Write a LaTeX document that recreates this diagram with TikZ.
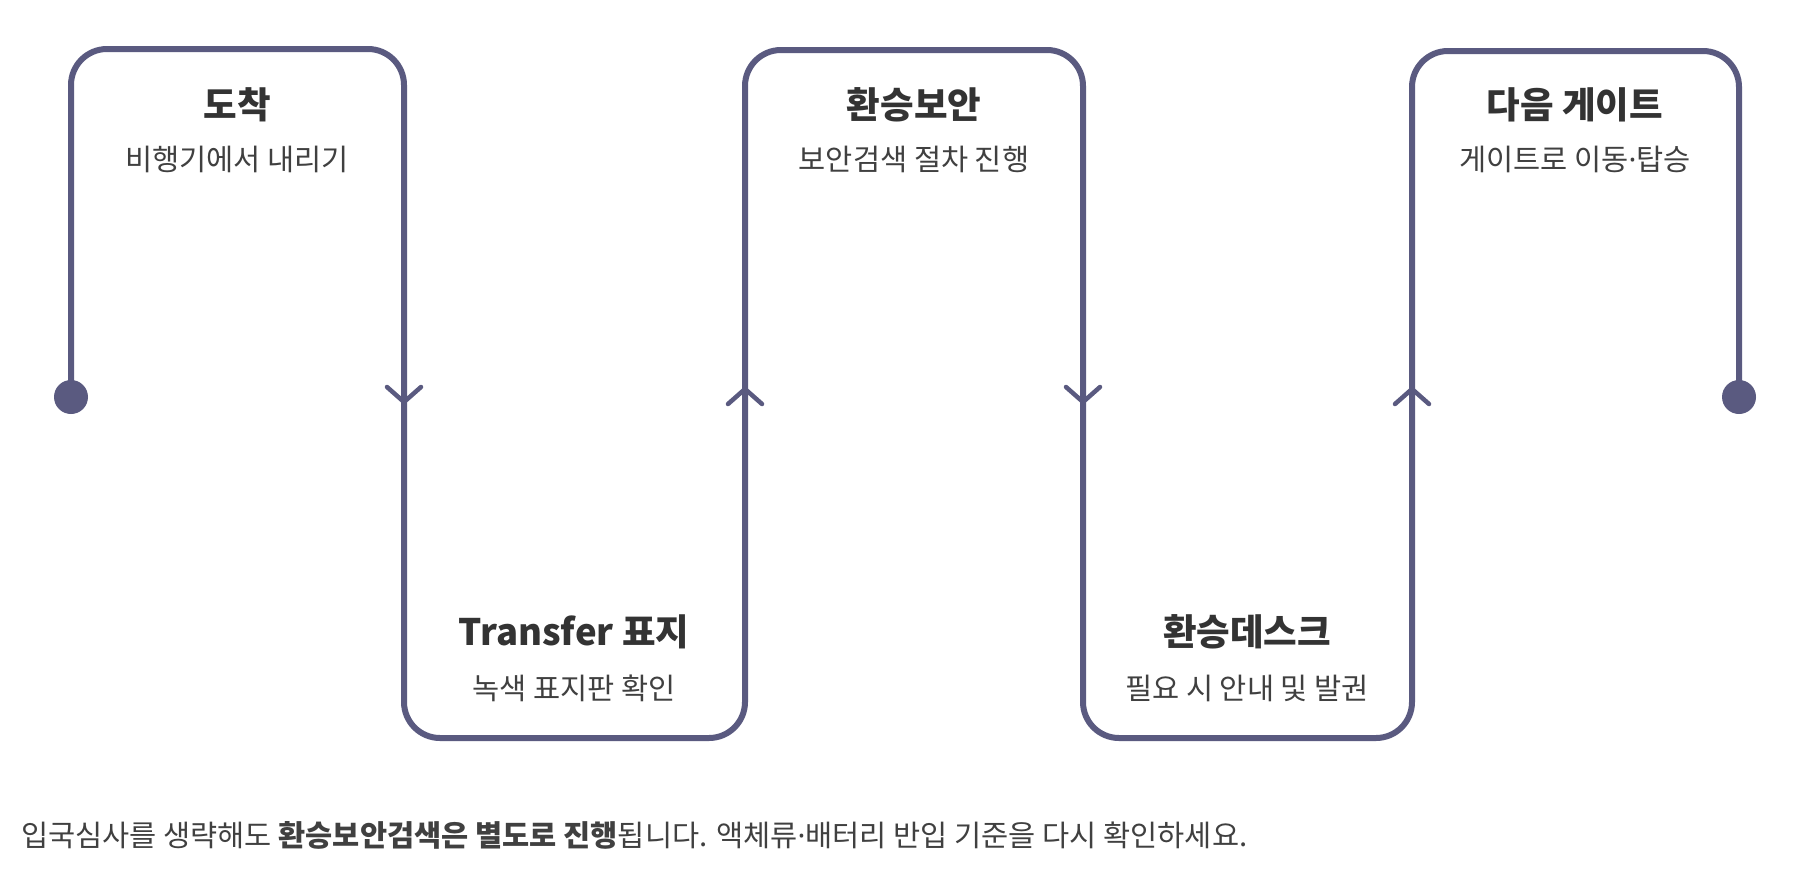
\documentclass[tikz,border=0pt]{standalone}
\usepackage{fontspec}
\setmainfont{Noto Sans CJK KR}
\newfontfamily\latinfont{Noto Sans}
\newcommand{\middot}{{\latinfont ·}}
\definecolor{routeclr}{HTML}{5A5A80}
\definecolor{inkclr}{HTML}{333333}
\definecolor{subclr}{HTML}{404040}
\begin{document}
\begin{tikzpicture}[x=1pt,y=-1pt,
    route/.style={line width=6pt,draw=routeclr,rounded corners=36pt},
    chevron/.style={line width=4.5pt,draw=routeclr,line cap=round,line join=round},
    title/.style={font=\fontsize{36.5}{44}\selectfont\bfseries,text=inkclr},
    sub/.style={font=\fontsize{29.5}{36}\selectfont,text=subclr}]
    \useasboundingbox (0,0) rectangle (1798,870);
    % the route, up and down
    \draw[route] (71,397) -- (71,49) -- (404,49) -- (404,738) -- (745,738)
        -- (745,50) -- (1083,50) -- (1083,738) -- (1412,738) -- (1412,51)
        -- (1739,51) -- (1739,397);
    \fill[routeclr] (71,397) circle [radius=17pt];
    \fill[routeclr] (1739,397) circle [radius=17pt];
    \foreach \x in {404,1083}
    \draw[chevron] (\x-17,387) -- (\x,402) -- (\x+17,387);
    \foreach \x in {745,1412}
    \draw[chevron] (\x-17,404) -- (\x,389) -- (\x+17,404);
    % steps
    \node[title] (arrive) at (237,105) {도착};
    \node[sub] (arrivesub) at (237,159) {비행기에서 내리기};
    \node[title] (sign) at (574,632) {Transfer 표지};
    \node[sub] (signsub) at (574,688) {녹색 표지판 확인};
    \node[title] (security) at (914,105) {환승보안};
    \node[sub] (securitysub) at (914,159) {보안검색 절차 진행};
    \node[title] (desk) at (1247,632) {환승데스크};
    \node[sub] (desksub) at (1247,688) {필요 시 안내 및 발권};
    \node[title] (gate) at (1575,105) {다음 게이트};
    \node[sub] (gatesub) at (1575,159) {게이트로 이동\middot 탑승};
    % note
    \node[sub,anchor=west,inner sep=0pt] (note) at (21,835)
        {입국심사를 생략해도 \textbf{환승보안검색은 별도로 진행}됩니다. 액체류\middot 배터리 반입 기준을 다시 확인하세요.};
\end{tikzpicture}
\end{document}
